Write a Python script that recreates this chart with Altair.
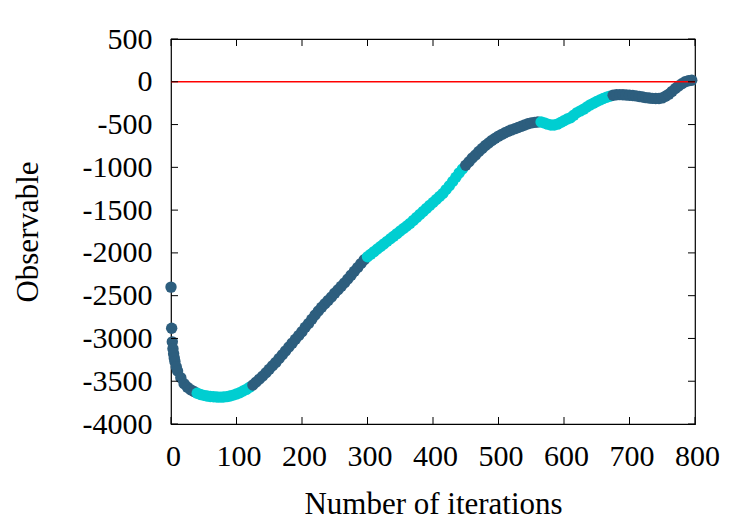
import altair as alt
import pandas as pd

# ---- data ----
iterations = [0, 1, 2, 3, 4, 5, 6, 8, 10, 15, 20, 25, 30, 35, 40, 45, 50, 55, 60, 65, 70, 75,
              80, 85, 90, 95, 100, 105, 110, 115, 120, 125, 130, 135, 140, 145, 150, 155, 160,
              165, 170, 175, 180, 185, 190, 195, 200, 205, 210, 215, 220, 225, 230, 235, 240,
              245, 250, 255, 260, 265, 270, 275, 280, 285, 290, 295, 300, 305, 310, 315, 320,
              325, 330, 335, 340, 345, 350, 355, 360, 365, 370, 375, 380, 385, 390, 395, 400,
              405, 410, 415, 420, 425, 430, 435, 440, 445, 450, 455, 460, 465, 470, 475, 480,
              485, 490, 495, 500, 505, 510, 515, 520, 525, 530, 535, 540, 545, 550, 555, 560,
              565, 570, 575, 580, 585, 590, 595, 600, 605, 610, 615, 620, 625, 630, 635, 640,
              645, 650, 655, 660, 665, 670, 675, 680, 685, 690, 695, 700, 705, 710, 715, 720,
              725, 730, 735, 740, 745, 750, 755, 760, 765, 770, 775, 780, 785, 790, 795]
observable = [-2400, -2880, -3040, -3120, -3180, -3230, -3270, -3330, -3380, -3460, -3530, -3570,
              -3600, -3620, -3640, -3655, -3665, -3672, -3678, -3682, -3685, -3686,
              -3684, -3680, -3672, -3662, -3650, -3635, -3615, -3595, -3570, -3545, -3510,
              -3475, -3440, -3400, -3360, -3320, -3280, -3235, -3190, -3145, -3100, -3055,
              -3010, -2965, -2920, -2870, -2825, -2775, -2725, -2680, -2635, -2595, -2555,
              -2515, -2470, -2430, -2390, -2350, -2305, -2260, -2215, -2170, -2125, -2080,
              -2045, -2015, -1985, -1955, -1925, -1895, -1865, -1835, -1805, -1775, -1745,
              -1715, -1685, -1655, -1620, -1585, -1550, -1515, -1480, -1445, -1410, -1375,
              -1340, -1305, -1260, -1215, -1165, -1115, -1065, -1020, -975, -935, -890, -855,
              -815, -780, -745, -715, -685, -660, -635, -615, -595, -578, -562, -548, -535,
              -520, -505, -490, -480, -475, -470, -470, -480, -495, -505, -505, -495, -475,
              -455, -435, -420, -390, -360, -340, -320, -295, -270, -250, -230, -212, -195,
              -180, -168, -158, -152, -150, -152, -155, -157, -160, -165, -172, -178, -185,
              -190, -194, -196, -195, -188, -170, -145, -112, -78, -48, -22, 0, 12, 18]

segment_starts = [0, 36, 125, 298, 448, 563, 675]
segment_phase = ["a", "b", "a", "b", "a", "b", "a"]
phase_colors = ["#2d5e7e", "#00ced1"]

x_ticks = [0, 100, 200, 300, 400, 500, 600, 700, 800]
y_ticks = [-4000, -3500, -3000, -2500, -2000, -1500, -1000, -500, 0, 500]

def phase_of(it):
    p = segment_phase[0]
    for s, ph in zip(segment_starts, segment_phase):
        if it >= s:
            p = ph
    return p

df = pd.DataFrame({"it": iterations, "obs": observable})
df["phase"] = [phase_of(i) for i in iterations]

W, H = 524, 385
FONT = "Liberation Serif"

xscale = alt.Scale(domain=[0, 800], nice=False, zero=False)
yscale = alt.Scale(domain=[-4000, 500], nice=False, zero=False)

xaxis = alt.Axis(values=x_ticks, title="Number of iterations", domain=False,
                 ticks=False, grid=False, labelFont=FONT, labelFontSize=30,
                 labelColor="black", labelPadding=17, labelOffset=2,
                 labelExpr="datum.value + ''",
                 titleFont=FONT, titleFontSize=31, titleFontWeight="normal",
                 titleColor="black", titleX=W / 2, titleY=89, titleBaseline="alphabetic",
                 titleAlign="center", labelFlush=False)
yaxis = alt.Axis(values=y_ticks, title="Observable", domain=False, ticks=False,
                 grid=False, labelFont=FONT, labelFontSize=30, labelColor="black",
                 labelPadding=19, labelExpr="datum.value + ''", titleFont=FONT,
                 titleFontSize=31, titleFontWeight="normal", titleColor="black",
                 titleX=-134, titleY=H / 2, titleAngle=-90, titleBaseline="alphabetic",
                 titleAlign="center", labelFlush=False)

points = alt.Chart(df).mark_circle(size=130, opacity=1).encode(
    x=alt.X("it:Q", scale=xscale, axis=xaxis, title="Number of iterations"),
    y=alt.Y("obs:Q", scale=yscale, axis=yaxis, title="Observable"),
    color=alt.Color("phase:N", scale=alt.Scale(domain=["a", "b"], range=phase_colors),
                    legend=None),
)

zero_df = pd.DataFrame({"y": [0]})
zero_line = alt.Chart(zero_df).mark_rule(color="#ff0000", strokeWidth=1.6).encode(
    y=alt.Y("y:Q", scale=yscale, axis=yaxis, title="Observable")
)

xt = pd.DataFrame({"t": x_ticks})
yt = pd.DataFrame({"t": y_ticks})

tick_style = dict(color="black", thickness=1, size=7, opacity=1)
xb = alt.Chart(xt).mark_tick(orient="vertical", **tick_style).encode(
    x=alt.X("t:Q", scale=xscale, axis=xaxis, title="Number of iterations"),
    y=alt.value(H - 3.5))
xtp = alt.Chart(xt).mark_tick(orient="vertical", **tick_style).encode(
    x=alt.X("t:Q", scale=xscale, axis=xaxis, title="Number of iterations"),
    y=alt.value(3.5))
yl = alt.Chart(yt).mark_tick(orient="horizontal", **tick_style).encode(
    y=alt.Y("t:Q", scale=yscale, axis=yaxis, title="Observable"),
    x=alt.value(3.5))
yr = alt.Chart(yt).mark_tick(orient="horizontal", **tick_style).encode(
    y=alt.Y("t:Q", scale=yscale, axis=yaxis, title="Observable"),
    x=alt.value(W - 3.5))

chart = alt.layer(points, zero_line, xb, xtp, yl, yr).properties(
    width=W, height=H,
    autosize=alt.AutoSizeParams(type="none"),
    padding={"left": 171, "top": 39, "right": 55, "bottom": 101},
    background="white",
).configure_view(stroke="black", strokeWidth=1.2)

chart.save("out.html", embed_options={"renderer": "svg", "actions": False})
